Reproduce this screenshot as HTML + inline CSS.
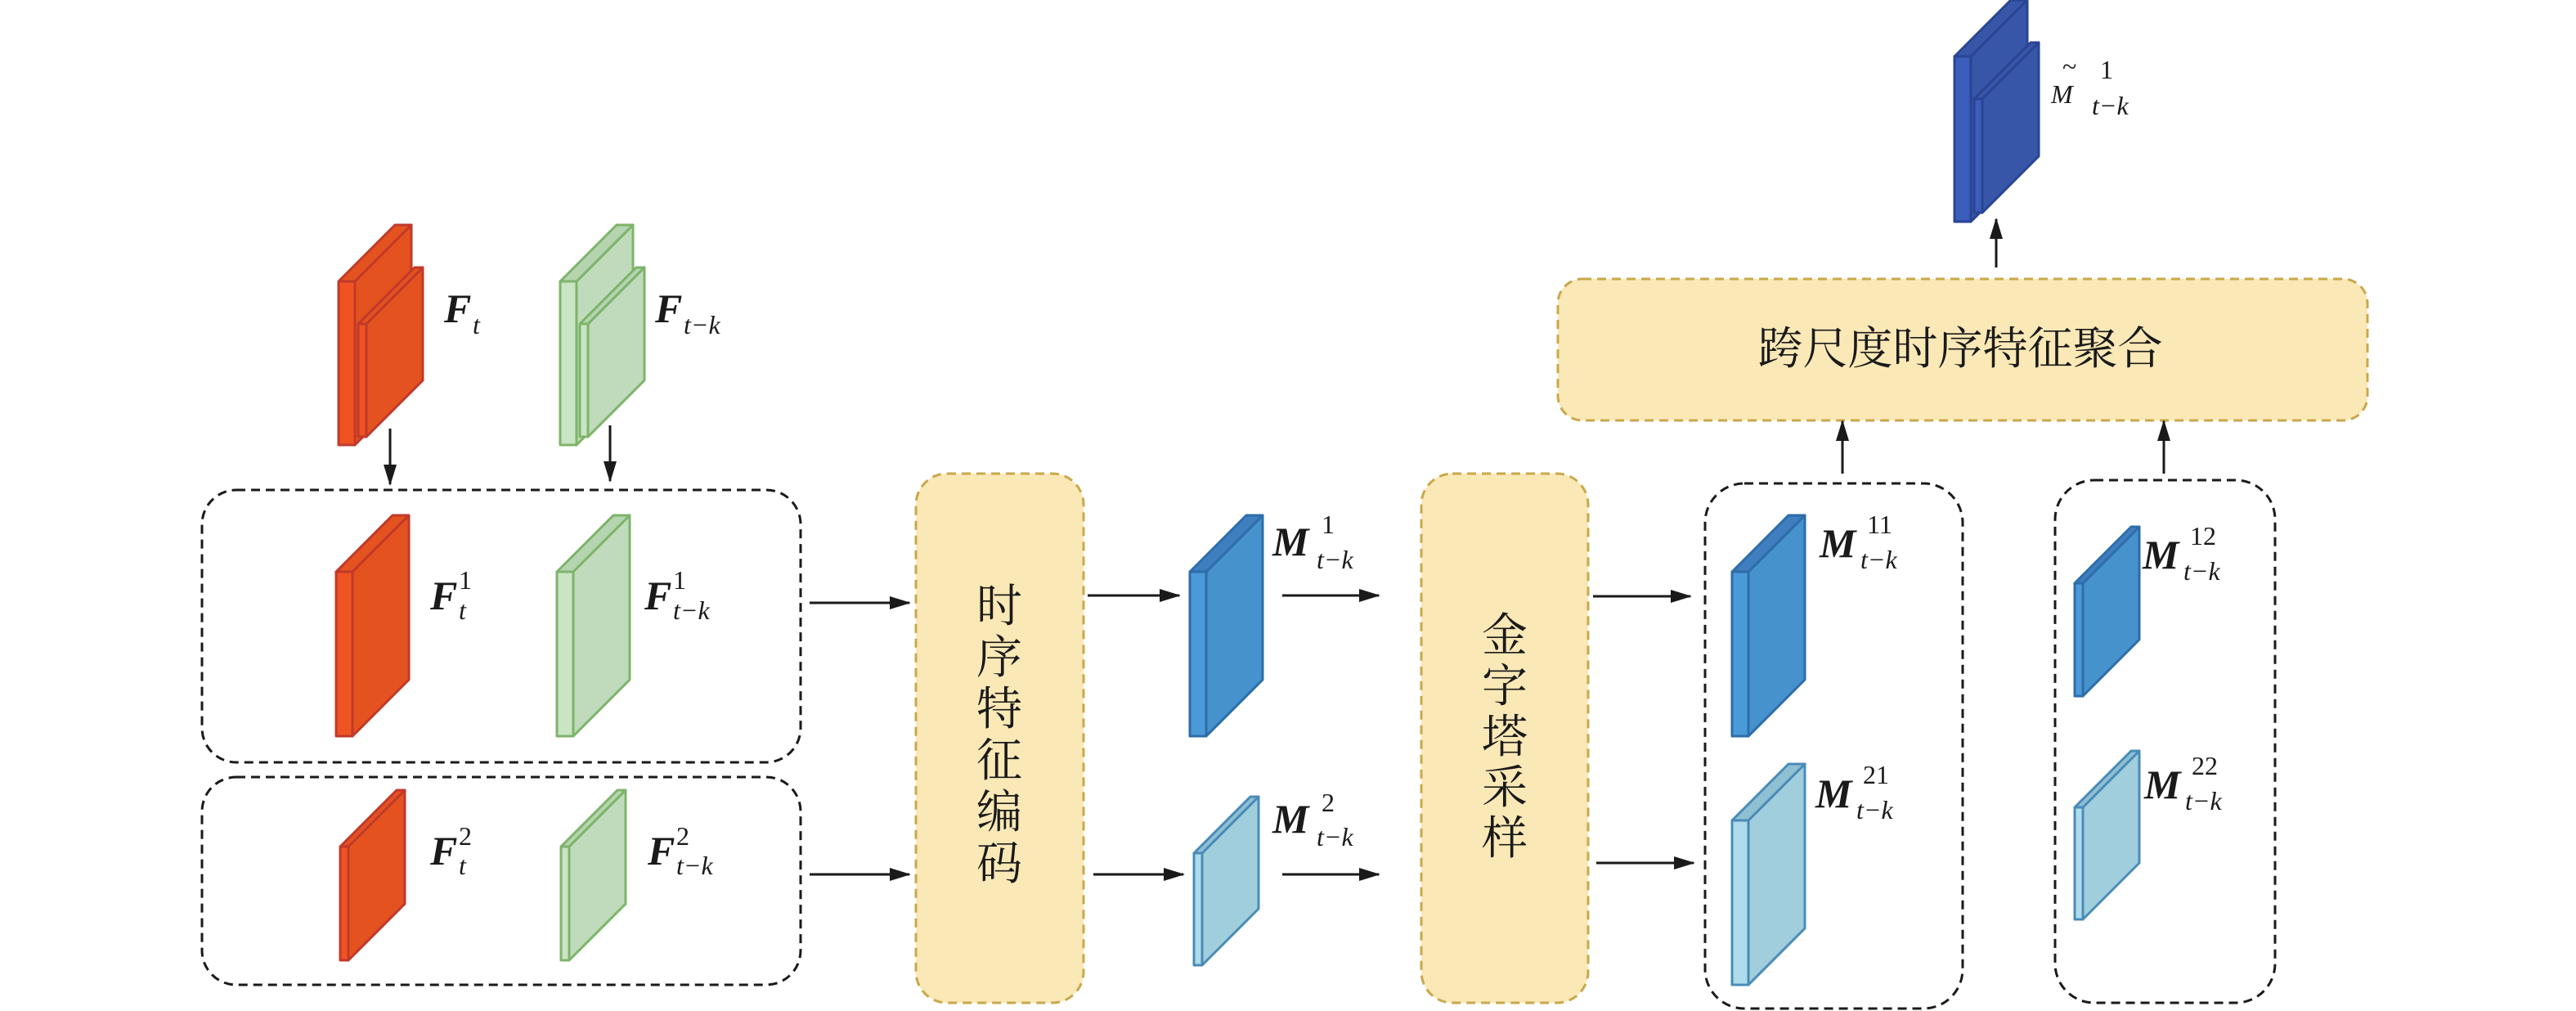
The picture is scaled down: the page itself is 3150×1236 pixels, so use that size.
<!DOCTYPE html>
<html><head><meta charset="utf-8"><style>
html,body{margin:0;padding:0;background:#fff;}
svg{display:block;}
.L{font-family:"Liberation Serif",serif;font-weight:bold;font-style:italic;font-size:50px;fill:#1a1a1a;}
.s{font-family:"Liberation Serif",serif;font-weight:normal;font-style:italic;font-size:32px;fill:#1a1a1a;}
.p{font-family:"Liberation Serif",serif;font-weight:normal;font-style:normal;font-size:32px;fill:#1a1a1a;}
.cn{font-family:"Liberation Serif","Noto Serif CJK SC",serif;font-size:56px;fill:#1a1a1a;}
</style></head><body>
<svg width="3150" height="1236" viewBox="0 0 3150 1236" xmlns="http://www.w3.org/2000/svg">
<defs>
<marker id="ah" markerWidth="26" markerHeight="16" refX="24" refY="8" orient="auto" markerUnits="userSpaceOnUse">
<path d="M0,0 L26,8 L0,16 Z" fill="#1a1a1a"/></marker>
</defs>

<!-- dashed grouping boxes -->
<g fill="none" stroke="#1a1a1a" stroke-width="3" stroke-dasharray="11,7">
<rect x="247" y="599" width="732" height="333" rx="42"/>
<rect x="247" y="950" width="732" height="254" rx="42"/>
<rect x="2085" y="591" width="315" height="642" rx="48"/>
<rect x="2513" y="587" width="269" height="639" rx="48"/>
</g>

<!-- yellow boxes -->
<g fill="#FAE8B6" stroke="#C9A84C" stroke-width="3" stroke-dasharray="11,7">
<rect x="1120" y="579" width="205" height="647" rx="38"/>
<rect x="1738" y="579" width="204" height="647" rx="38"/>
<rect x="1905" y="341" width="990" height="173" rx="30"/>
</g>
<g class="cn" text-anchor="middle">
<text x="1222" y="760">时</text>
<text x="1222" y="823">序</text>
<text x="1222" y="886">特</text>
<text x="1222" y="949">征</text>
<text x="1222" y="1012">编</text>
<text x="1222" y="1075">码</text>
<text x="1840" y="796">金</text>
<text x="1840" y="858">字</text>
<text x="1840" y="920">塔</text>
<text x="1840" y="982">采</text>
<text x="1840" y="1044">样</text>
<text x="2397" y="445" font-size="55">跨尺度时序特征聚合</text>
</g>

<!-- arrows -->
<g stroke="#1a1a1a" stroke-width="3" marker-end="url(#ah)" fill="none">
<line x1="477" y1="524" x2="477" y2="592"/>
<line x1="746" y1="520" x2="746" y2="588"/>
<line x1="990" y1="737" x2="1112" y2="737"/>
<line x1="990" y1="1069" x2="1112" y2="1069"/>
<line x1="1330" y1="728" x2="1442" y2="728"/>
<line x1="1337" y1="1069" x2="1447" y2="1069"/>
<line x1="1568" y1="728" x2="1686" y2="728"/>
<line x1="1568" y1="1069" x2="1686" y2="1069"/>
<line x1="1948" y1="729" x2="2067" y2="729"/>
<line x1="1952" y1="1055" x2="2071" y2="1055"/>
<line x1="2253" y1="579" x2="2253" y2="515"/>
<line x1="2646" y1="579" x2="2646" y2="515"/>
<line x1="2441" y1="327" x2="2441" y2="268"/>
</g>

<!-- red slabs -->
<g fill="#E4521F" stroke="#C0392B" stroke-width="3" stroke-linejoin="round">
<polygon points="434,344 503,275 503,475 434,544"/><polygon points="414,344 483,275 503,275 434,344"/><rect x="414" y="344" width="20" height="200" fill="#F05322"/>
<polygon points="448,396 517,327 517,465 448,534"/><polygon points="438,396 507,327 517,327 448,396"/><rect x="438" y="396" width="10" height="138" fill="#F05322"/>
<polygon points="431,699 500,630 500,831 431,900"/><polygon points="411,699 480,630 500,630 431,699"/><rect x="411" y="699" width="20" height="201" fill="#F05322"/>
<polygon points="426,1035 495,966 495,1105 426,1174"/><polygon points="416,1035 485,966 495,966 426,1035"/><rect x="416" y="1035" width="10" height="139" fill="#F05322"/>
</g>
<!-- green slabs -->
<g fill="#BFDBBB" stroke="#7DB46A" stroke-width="3" stroke-linejoin="round">
<polygon points="705,344 774,275 774,475 705,544"/><polygon points="685,344 754,275 774,275 705,344" fill="#B5D4B0"/><rect x="685" y="344" width="20" height="200" fill="#C9E5C4"/>
<polygon points="719,396 788,327 788,465 719,534"/><polygon points="709,396 778,327 788,327 719,396" fill="#B5D4B0"/><rect x="709" y="396" width="10" height="138" fill="#C9E5C4"/>
<polygon points="701,699 770,630 770,831 701,900"/><polygon points="681,699 750,630 770,630 701,699" fill="#B5D4B0"/><rect x="681" y="699" width="20" height="201" fill="#C9E5C4"/>
<polygon points="696,1035 765,966 765,1105 696,1174"/><polygon points="686,1035 755,966 765,966 696,1035" fill="#B5D4B0"/><rect x="686" y="1035" width="10" height="139" fill="#C9E5C4"/>
</g>
<!-- blue slabs -->
<g fill="#4592CC" stroke="#2E6DA8" stroke-width="3" stroke-linejoin="round">
<polygon points="1475,699 1544,630 1544,831 1475,900"/><polygon points="1455,699 1524,630 1544,630 1475,699" fill="#3F7FC0"/><rect x="1455" y="699" width="20" height="201" fill="#4A9ADA"/>
<polygon points="2138,699 2207,630 2207,831 2138,900"/><polygon points="2118,699 2187,630 2207,630 2138,699" fill="#3F7FC0"/><rect x="2118" y="699" width="20" height="201" fill="#4A9ADA"/>
<polygon points="2547,713 2616,644 2616,782 2547,851"/><polygon points="2537,713 2606,644 2616,644 2547,713" fill="#3F7FC0"/><rect x="2537" y="713" width="10" height="138" fill="#4A9ADA"/>
</g>
<!-- light blue slabs -->
<g fill="#A0CEDC" stroke="#4A8CB8" stroke-width="3" stroke-linejoin="round">
<polygon points="1470,1043 1539,974 1539,1111 1470,1180"/><polygon points="1460,1043 1529,974 1539,974 1470,1043" fill="#8FBFD2"/><rect x="1460" y="1043" width="10" height="137" fill="#AEDCEA"/>
<polygon points="2138,1003 2207,934 2207,1135 2138,1204"/><polygon points="2118,1003 2187,934 2207,934 2138,1003" fill="#8FBFD2"/><rect x="2118" y="1003" width="20" height="201" fill="#AEDCEA"/>
<polygon points="2547,987 2616,918 2616,1055 2547,1124"/><polygon points="2537,987 2606,918 2616,918 2547,987" fill="#8FBFD2"/><rect x="2537" y="987" width="10" height="137" fill="#AEDCEA"/>
</g>
<!-- dark blue slabs -->
<g fill="#3756A8" stroke="#2A4494" stroke-width="3" stroke-linejoin="round">
<polygon points="2410,69 2479,0 2479,202 2410,271"/><polygon points="2390,69 2459,0 2479,0 2410,69"/><rect x="2390" y="69" width="20" height="202" fill="#3B5DBB"/>
<polygon points="2424,121 2493,52 2493,191 2424,260"/><polygon points="2414,121 2483,52 2493,52 2424,121"/><rect x="2414" y="121" width="10" height="139" fill="#3B5DBB"/>
</g>

<!-- labels -->
<text class="L" x="543" y="394">F</text><text class="s" x="578" y="408">t</text>
<text class="L" x="801" y="394">F</text><text class="s" x="836" y="408">t−k</text>
<text class="L" x="526" y="745">F</text><text class="p" x="561" y="720">1</text><text class="s" x="561" y="757">t</text>
<text class="L" x="788" y="745">F</text><text class="p" x="823" y="720">1</text><text class="s" x="823" y="757">t−k</text>
<text class="L" x="526" y="1057">F</text><text class="p" x="561" y="1033">2</text><text class="s" x="561" y="1069">t</text>
<text class="L" x="792" y="1057">F</text><text class="p" x="827" y="1033">2</text><text class="s" x="827" y="1069">t−k</text>
<text class="L" x="1556" y="679">M</text><text class="p" x="1616" y="652">1</text><text class="s" x="1610" y="695">t−k</text>
<text class="L" x="1556" y="1018">M</text><text class="p" x="1616" y="992">2</text><text class="s" x="1610" y="1034">t−k</text>
<text class="L" x="2225" y="681">M</text><text class="p" x="2283" y="652">11</text><text class="s" x="2275" y="695">t−k</text>
<text class="L" x="2220" y="987">M</text><text class="p" x="2278" y="958">21</text><text class="s" x="2270" y="1001">t−k</text>
<text class="L" x="2620" y="695">M</text><text class="p" x="2678" y="666">12</text><text class="s" x="2670" y="709">t−k</text>
<text class="L" x="2622" y="976">M</text><text class="p" x="2680" y="947">22</text><text class="s" x="2672" y="990">t−k</text>
<text class="s" x="2508" y="126" font-size="50">M</text><text class="p" x="2522" y="92" font-size="36">~</text><text class="p" x="2568" y="96">1</text><text class="s" x="2558" y="140">t−k</text>
</svg>
</body></html>
